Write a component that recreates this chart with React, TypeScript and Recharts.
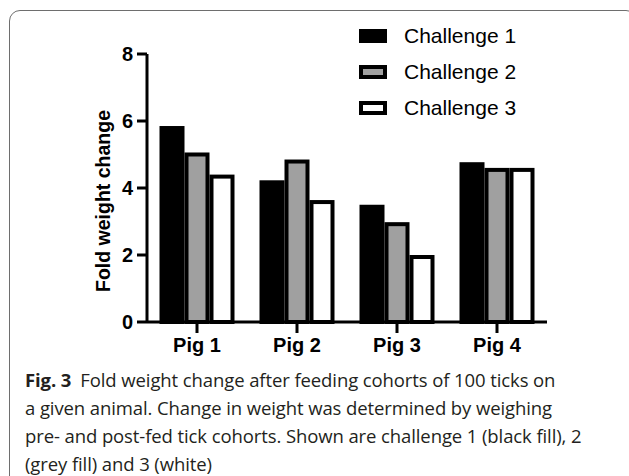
import React from 'react'
import { BarChart, Bar, XAxis, YAxis } from 'recharts'

const categories = ['Pig 1', 'Pig 2', 'Pig 3', 'Pig 4']
const challenge1 = [5.85, 4.23, 3.5, 4.77]
const challenge2 = [5.06, 4.85, 2.98, 4.6]
const challenge3 = [4.4, 3.64, 2.0, 4.6]
const yTicks = [0, 2, 4, 6, 8]

const seriesNames = ['Challenge 1', 'Challenge 2', 'Challenge 3']
const seriesFills = ['#000000', '#a0a0a0', '#ffffff']

const captionLines = [
  'Fold weight change after feeding cohorts of 100 ticks on',
  'a given animal. Change in weight was determined by weighing',
  'pre- and post-fed tick cohorts. Shown are challenge 1 (black fill), 2',
  '(grey fill) and 3 (white)',
]

const data = categories.map((name, i) => ({
  name,
  c1: challenge1[i],
  c2: challenge2[i],
  c3: challenge3[i],
}))

const SW = 4

// stroke drawn inside the bar so neighbouring bars share edges like the original
function BorderBar(props: any) {
  const { x, y, width, height, fill } = props
  if (!height || height <= 0) return null
  return (
    <rect
      x={x + SW / 2}
      y={y + SW / 2}
      width={width - SW}
      height={height - SW / 2}
      fill={fill}
      stroke="#000"
      strokeWidth={SW}
    />
  )
}

const tickFont = { fontFamily: 'Liberation Sans, Arial, sans-serif', fontWeight: 700, fontSize: 20, fill: '#000' }

function YLabel() {
  return (
    <text
      x={103}
      y={201}
      transform="rotate(-90, 103, 201)"
      textAnchor="middle"
      dominantBaseline="central"
      style={{ ...tickFont, fontSize: 19.5 }}
    >
      Fold weight change
    </text>
  )
}

export default function App() {
  return (
    <div style={{ position: 'absolute', left: 0, top: 0, width: 629, height: 476, overflow: 'hidden', background: '#fff' }}>
      <div
        style={{
          position: 'absolute', left: 9, top: 10, width: 628, height: 520,
          border: '1px solid #6e6e6e', borderRadius: 11, boxSizing: 'border-box',
        }}
      />
      <div style={{ position: 'absolute', left: 0, top: 0 }}>
        <BarChart
          width={629}
          height={370}
          data={data}
          margin={{ top: 54, right: 82, bottom: 8, left: 0 }}
          barCategoryGap="12.5%"
          barGap={0}
        >
          <XAxis
            dataKey="name"
            height={40}
            axisLine={{ stroke: '#000', strokeWidth: 3 }}
            tickLine={{ stroke: '#000', strokeWidth: 3 }}
            tickSize={11}
            tickMargin={5}
            tick={tickFont}
          />
          <YAxis
            width={147}
            domain={[0, 8]}
            ticks={yTicks}
            axisLine={{ stroke: '#000', strokeWidth: 3 }}
            tickLine={{ stroke: '#000', strokeWidth: 3 }}
            tickSize={10}
            tickMargin={4}
            tick={tickFont}
            label={<YLabel />}
          />
          <Bar dataKey="c1" name={seriesNames[0]} fill={seriesFills[0]} shape={BorderBar} isAnimationActive={false} />
          <Bar dataKey="c2" name={seriesNames[1]} fill={seriesFills[1]} shape={BorderBar} isAnimationActive={false} />
          <Bar dataKey="c3" name={seriesNames[2]} fill={seriesFills[2]} shape={BorderBar} isAnimationActive={false} />
        </BarChart>
      </div>
      <div style={{ position: 'absolute', left: 359, top: 18 }}>
        {seriesNames.map((n, i) => (
          <div key={n} style={{ display: 'flex', alignItems: 'center', height: 36 }}>
            <div
              style={{
                width: 28, height: 14, boxSizing: 'border-box', border: `${SW}px solid #000`,
                background: seriesFills[i], marginRight: 17,
              }}
            />
            <span style={{ fontFamily: 'Liberation Sans, Arial, sans-serif', fontSize: 21, color: '#000', lineHeight: '36px' }}>
              {n}
            </span>
          </div>
        ))}
      </div>
      <div
        style={{
          position: 'absolute', left: 25, top: 366, fontFamily: '"Open Sans", sans-serif',
          fontSize: 18.5, lineHeight: '28px', color: '#231f20', whiteSpace: 'nowrap', letterSpacing: -0.1,
        }}
      >
        {captionLines.map((l, i) => (
          <div key={i}>
            {i === 0 && <b style={{ fontWeight: 700, marginRight: 9 }}>Fig. 3</b>}
            {l}
          </div>
        ))}
      </div>
    </div>
  )
}
